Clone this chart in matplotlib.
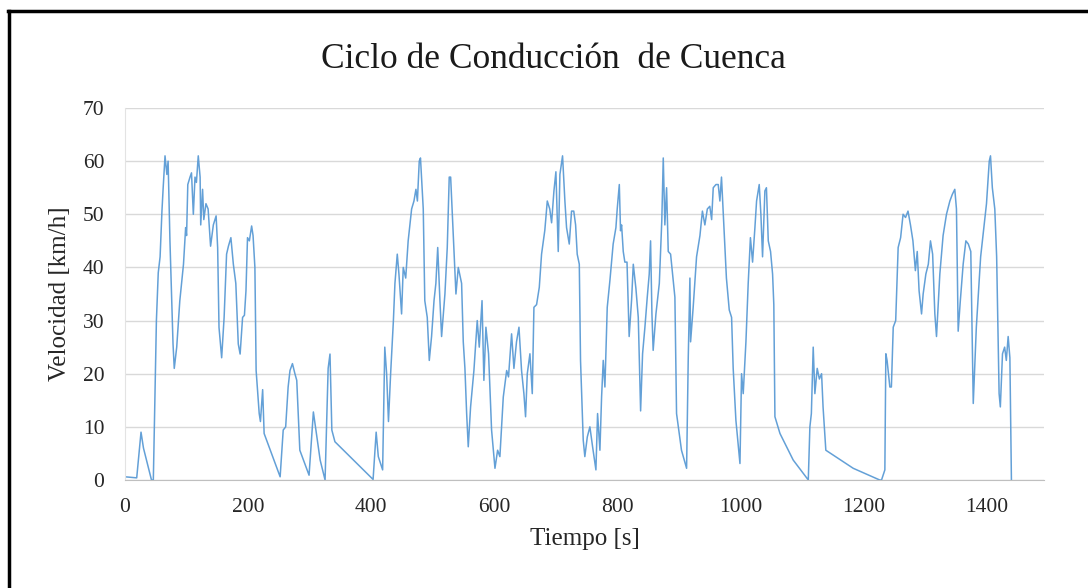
"""
Driving cycle plot (Cuenca) - speed vs time, Excel-like look.
"""

import matplotlib
matplotlib.use("Agg")
import matplotlib.pyplot as plt
from matplotlib.lines import Line2D

TITLE  = "Ciclo de Conducción  de Cuenca"
XLABEL = "Tiempo [s]"
YLABEL = "Velocidad [km/h]"

# time [s]
tiempo = [
    0, 10, 19, 26, 30, 43, 46, 51, 54, 57, 60, 62, 65, 68, 70, 73, 78, 80, 84, 89,
    95, 98.5, 100, 102, 105.6, 108, 111, 113.7, 116, 119, 122, 123, 126, 128, 131.5,
    135, 139, 143.5, 148, 150.5, 152.7, 157, 161, 165, 168, 172, 176, 180, 184, 187,
    191, 194, 196.5, 199, 202, 205.7, 208, 211, 213, 218, 220, 223.6, 226, 252, 257,
    261, 265, 268, 272, 276, 279, 284, 299, 306, 317, 325, 330, 333, 336, 341, 403,
    408, 411.5, 418.5, 422, 425, 428, 431.5, 436, 438.5, 442.3, 445, 449.3, 452, 456,
    460, 465.6, 469.4, 472.6, 475, 478, 480, 484.5, 487, 491, 494.3, 498, 502, 505,
    508, 511.6, 514.3, 519.7, 523.5, 526.7, 529, 533.3, 537.6, 541.4, 546.8, 549.5,
    552.2, 555, 557.6, 561.4, 566.8, 572.2, 575.5, 580, 583, 586.3, 590.6, 595.5, 601,
    605.3, 609, 614.5, 620, 623, 628, 631.8, 636, 640, 644.2, 648, 650.7, 653.5, 657.8,
    661.6, 664.3, 668.6, 673, 676.7, 682, 686, 690, 693, 696.8, 700, 703.8, 706.5,
    710.8, 714.6, 717.3, 721.7, 725.4, 729, 732, 734.6, 738, 740, 744.4, 747, 751,
    755.2, 759.6, 765, 767.7, 771.5, 774.2, 776.9, 779.6, 783.4, 787.7, 793, 797.5,
    799.6, 803, 805, 806.7, 809.4, 812, 815.5, 819, 823, 825.7, 830, 833.8, 837.6,
    840.8, 844.6, 848.4, 851.6, 853.8, 856, 858, 862.5, 868, 872, 874.4, 877, 879.8,
    882.5, 886.3, 893.3, 896, 904, 912.3, 915, 917.7, 918.8, 923, 928.5, 934, 938, 942,
    946, 950, 953, 955.6, 960, 963.7, 966.4, 969, 973, 977, 981.6, 985.4, 988, 992.4,
    999, 1001.6, 1004.3, 1008.7, 1012.4, 1016, 1019.5, 1023.3, 1026, 1030.3, 1033,
    1035.7, 1039.5, 1042, 1045, 1048.7, 1052, 1054, 1055.8, 1064, 1085.5, 1110, 1112.6,
    1115, 1118, 1120.7, 1124.5, 1128, 1131.6, 1134, 1138.5, 1183, 1226, 1229, 1234.4,
    1236, 1238, 1242.5, 1245, 1248, 1252, 1256, 1260, 1264, 1268, 1272, 1276, 1280,
    1284, 1287, 1290, 1294, 1296.6, 1301, 1305, 1308.5, 1312, 1315.6, 1318.3, 1323.7,
    1329, 1334.5, 1340, 1344, 1348, 1350.7, 1353.5, 1357, 1361.6, 1366, 1370, 1374,
    1378, 1383, 1390, 1395.7, 1399.5, 1404, 1406, 1409, 1413, 1416, 1420, 1422, 1425.5,
    1429, 1431.7, 1434.7, 1437.5, 1440,
]

# speed [km/h]
velocidad = [
    0.6, 0.5, 0.4, 9, 6, 0, 0, 30, 39, 42, 50.6, 55, 61, 57.5, 60, 45, 25.6, 21, 25, 33.7,
    40.6, 47.5, 46, 55.6, 57, 57.8, 50, 57, 56, 61, 57, 48, 54.7, 49, 52,
    51, 44, 48, 49.7, 43.7, 28.7, 23, 30.6, 42.5, 44, 45.6, 40.6, 37, 25.6, 23.7,
    30.6, 31, 35.6, 45.6, 45, 47.8, 46, 40, 20.6, 12.5, 11, 17, 8.75, 0.6, 9.4,
    10, 17.5, 20.6, 21.9, 20, 18.75, 5.6, 0.9, 12.8, 3.75, 0, 21, 23.7, 9.4, 7.2, 0.1,
    9, 4.4, 1.9, 25, 20, 11, 20, 30, 37, 42.5, 38.75, 31.25, 40, 38,
    45, 51, 52.5, 54.7, 52.5, 60, 60.6, 51, 33.75, 30.6, 22.5, 27, 33.75, 37,
    43.75, 33.75, 27, 35, 43.75, 57, 57, 46, 35, 40, 37, 26,
    21, 12.5, 6.25, 13.75, 20.6, 30, 25, 33.75, 18.75, 28.75, 23.75, 9.4, 2.2,
    5.6, 4.4, 15.6, 20.6, 19.4, 27.5, 21, 26, 28.75, 20.6, 16.25, 11.9, 20, 23.75,
    16.25, 32.5, 33, 36.25, 42.5, 47, 52.5, 51, 48.4, 54.4, 58, 43, 57.5,
    61, 52.5, 47.5, 44.4, 50.6, 50.6, 48, 42.5, 40.6, 22.5, 7.5, 4.4, 8.1,
    10, 6.25, 1.9, 12.5, 5.6, 15.6, 22.5, 17.5, 32.5, 37.5, 44.4, 47.5,
    51, 55.6, 46.9, 48, 43, 41, 41, 27, 34, 40.6, 36, 30.6, 13,
    23.75, 28.75, 34.4, 38.75, 45, 31.25, 24.4, 31.25, 37, 48.75, 60.6, 48, 55,
    43, 42.5, 34.4, 12.5, 5.6, 2.2, 23, 38, 26, 32.5, 42, 46, 50.6, 48,
    51, 51.5, 49, 55, 55.6, 55.6, 52.5, 57, 47.5, 38, 32, 30.6, 21, 11.25,
    3.1, 20, 16.25, 26, 37, 45.6, 41, 47.5, 52.5, 55.6, 50,
    42, 54.4, 55, 45, 43, 38.75, 33, 11.9, 8.75, 3.75, 0, 10,
    12.5, 25, 16.25, 21, 19, 20, 13.75, 5.6, 2.2, 0, 0, 1.9,
    23.75, 22.5, 17.5, 17.5, 28.75, 30, 43.75, 45.6, 50, 49.4, 50.6, 48, 45,
    39.4, 43, 35.6, 31.25, 35, 38.75, 40.6, 45, 42.5, 31.25, 27, 38.75,
    46, 50, 52.5, 53.75, 54.7, 51, 28, 33.75, 40.6, 45, 44.4, 43,
    14.4, 28.75, 42, 48, 52, 60, 61, 55, 51, 42, 16.25, 13.75, 23.75,
    25, 22.5, 27, 23, 0,
]

x_ticks = [0, 200, 400, 600, 800, 1000, 1200, 1400]
y_ticks = [0, 10, 20, 30, 40, 50, 60, 70]


def main():
    plt.rcParams["font.family"] = ["Liberation Serif", "DejaVu Serif"]

    fig = plt.figure(figsize=(10.88, 5.88), dpi=100)
    ax  = fig.add_axes([0.1149, 0.1837, 0.8447, 0.6326])

    ax.plot(tiempo, velocidad, color="#5B9BD5", lw=1.1, alpha=0.95)

    ax.set_xlim(0, 1493)
    ax.set_ylim(0, 70)
    ax.set_xticks(x_ticks)
    ax.set_yticks(y_ticks)
    ax.tick_params(axis="both", length=0, labelsize=15.5, colors="#262626")
    ax.tick_params(axis="x", pad=13)
    ax.tick_params(axis="y", pad=15)

    ax.grid(axis="y", color="#D9D9D9", lw=1.0)
    ax.set_axisbelow(True)
    for side in ("top", "right"):
        ax.spines[side].set_visible(False)
    ax.spines["bottom"].set_color("#BFBFBF")
    ax.spines["left"].set_color("#E3E3E3")

    ax.set_xlabel(XLABEL, fontsize=18, color="#262626", labelpad=8)
    ax.set_ylabel(YLABEL, fontsize=18, color="#262626", labelpad=8)

    fig.text(0.5087, 0.899, TITLE, ha="center", va="center", fontsize=25.5,
             color="#1a1a1a")

    # black frame (top + left edges of the screenshot)
    fig.add_artist(Line2D([8 / 1088, 1.0], [1 - 11 / 588, 1 - 11 / 588],
                          color="black", lw=2.5, transform=fig.transFigure))
    fig.add_artist(Line2D([9 / 1088, 9 / 1088], [0.0, 1 - 11 / 588],
                          color="black", lw=2.5, transform=fig.transFigure))

    fig.savefig("out.png", dpi=100)
    plt.close(fig)


if __name__ == "__main__":
    main()
